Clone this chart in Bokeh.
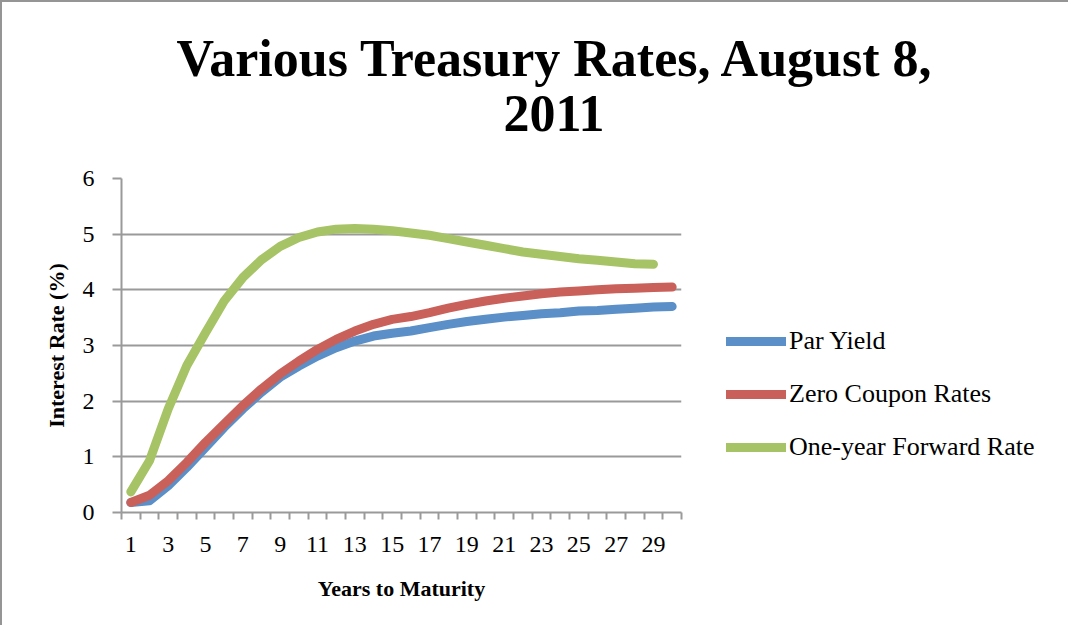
from bokeh.plotting import figure
from bokeh.models import (Legend, LegendItem, FixedTicker, Range1d, Div)
from bokeh.layouts import column
from bokeh.embed import file_html
from bokeh.resources import INLINE

years = list(range(1, 31))
par_yield = [0.18, 0.21, 0.48, 0.81, 1.17, 1.53, 1.86, 2.16, 2.43, 2.63,
             2.81, 2.96, 3.08, 3.17, 3.22, 3.26, 3.32, 3.38, 3.43, 3.47,
             3.51, 3.54, 3.57, 3.59, 3.62, 3.63, 3.65, 3.67, 3.69, 3.70]
zero_coupon = [0.18, 0.31, 0.57, 0.90, 1.26, 1.59, 1.92, 2.22, 2.49, 2.72,
               2.93, 3.11, 3.26, 3.38, 3.47, 3.52, 3.59, 3.67, 3.74, 3.80,
               3.85, 3.89, 3.93, 3.96, 3.98, 4.00, 4.02, 4.03, 4.04, 4.05]
forward_years = list(range(1, 30))
forward_rate = [0.37, 0.93, 1.86, 2.64, 3.23, 3.80, 4.22, 4.54, 4.78, 4.94,
                5.04, 5.09, 5.10, 5.09, 5.06, 5.02, 4.98, 4.92, 4.86, 4.80,
                4.74, 4.68, 4.64, 4.60, 4.56, 4.53, 4.50, 4.47, 4.46]
x_tick_labels = [1, 3, 5, 7, 9, 11, 13, 15, 17, 19, 21, 23, 25, 27, 29]
y_ticks = [0, 1, 2, 3, 4, 5, 6]

series_names = ["Par Yield", "Zero Coupon Rates", "One-year Forward Rate"]
title_lines = ["Various Treasury Rates, August 8,", "2011"]
colors = ["#5A8FC8", "#CA605A", "#A6C365"]
FONT = "Liberation Serif"
BORDER = "2px solid #959595"

TITLE_H = 150

title_div = Div(
    text=('<div style="display:block; width:1030px; padding-top:29px; padding-left:74px; '
          'text-align:center; font-family:\'Liberation Serif\'; font-weight:bold; '
          'font-size:52px; line-height:55px; color:black; white-space:nowrap;">'
          + title_lines[0] + '<br>' + title_lines[1] + '</div>'),
    width=1068, height=TITLE_H,
    styles={"border-top": BORDER, "border-left": BORDER, "margin": "0",
            "background": "white"})

p = figure(frame_width=558, frame_height=334, output_backend="svg",
           toolbar_location=None,
           x_range=Range1d(0.5, 30.5), y_range=Range1d(0, 6),
           min_border_left=119, min_border_right=0,
           min_border_top=28, min_border_bottom=113)
p.styles = {"border-left": BORDER, "margin": "0"}
p.title = None
p.outline_line_color = None
p.background_fill_color = "white"
p.border_fill_color = "white"

# grid
p.xgrid.grid_line_color = None
p.ygrid.grid_line_color = "#9a9a9a"
p.ygrid.grid_line_width = 2
p.ygrid.ticker = FixedTicker(ticks=y_ticks)

# x axis (labels at odd years, tick marks between categories)
xa = p.xaxis[0]
xa.ticker = FixedTicker(ticks=x_tick_labels, minor_ticks=[i + 0.5 for i in range(0, 31)])
xa.major_tick_line_color = None
xa.minor_tick_line_color = "#9a9a9a"
xa.minor_tick_line_width = 2
xa.minor_tick_out = 7
xa.minor_tick_in = 0
xa.axis_line_color = "#9a9a9a"
xa.axis_line_width = 2
xa.major_label_text_font = FONT
xa.major_label_text_font_size = "24px"
xa.major_label_text_color = "black"
xa.major_label_standoff = 17
xa.axis_label = "Years to Maturity"
xa.axis_label_text_font = FONT
xa.axis_label_text_font_style = "bold"
xa.axis_label_text_font_size = "22px"
xa.axis_label_text_color = "black"
xa.axis_label_standoff = 21

# y axis
ya = p.yaxis[0]
ya.ticker = FixedTicker(ticks=y_ticks)
ya.minor_tick_line_color = None
ya.major_tick_line_color = "#9a9a9a"
ya.major_tick_line_width = 2
ya.major_tick_out = 9
ya.major_tick_in = 0
ya.axis_line_color = "#9a9a9a"
ya.axis_line_width = 2
ya.major_label_text_font = FONT
ya.major_label_text_font_size = "24px"
ya.major_label_text_color = "black"
ya.major_label_standoff = 18
ya.axis_label = "Interest Rate (%)"
ya.axis_label_text_font = FONT
ya.axis_label_text_font_style = "bold"
ya.axis_label_text_font_size = "22px"
ya.axis_label_text_color = "black"
ya.axis_label_standoff = 11

r1 = p.line(years, par_yield, line_color=colors[0], line_width=9,
            line_cap="round", line_join="round")
r2 = p.line(years, zero_coupon, line_color=colors[1], line_width=9,
            line_cap="round", line_join="round")
r3 = p.line(forward_years, forward_rate, line_color=colors[2], line_width=9,
            line_cap="round", line_join="round")

legend = Legend(items=[LegendItem(label=series_names[0], renderers=[r1]),
                       LegendItem(label=series_names[1], renderers=[r2]),
                       LegendItem(label=series_names[2], renderers=[r3])],
                location=(45, 50), orientation="vertical")
legend.border_line_color = None
legend.background_fill_alpha = 0
legend.padding = 0
legend.margin = 48
legend.spacing = 23
legend.glyph_width = 60
legend.glyph_height = 20
legend.label_height = 20
legend.label_standoff = 3
legend.label_text_font = FONT
legend.label_text_font_size = "26px"
legend.label_text_color = "black"
legend.label_text_baseline = "middle"
p.add_layout(legend, "right")

layout = column(title_div, p, spacing=0)
open("out.html", "w").write(file_html(layout, INLINE))
